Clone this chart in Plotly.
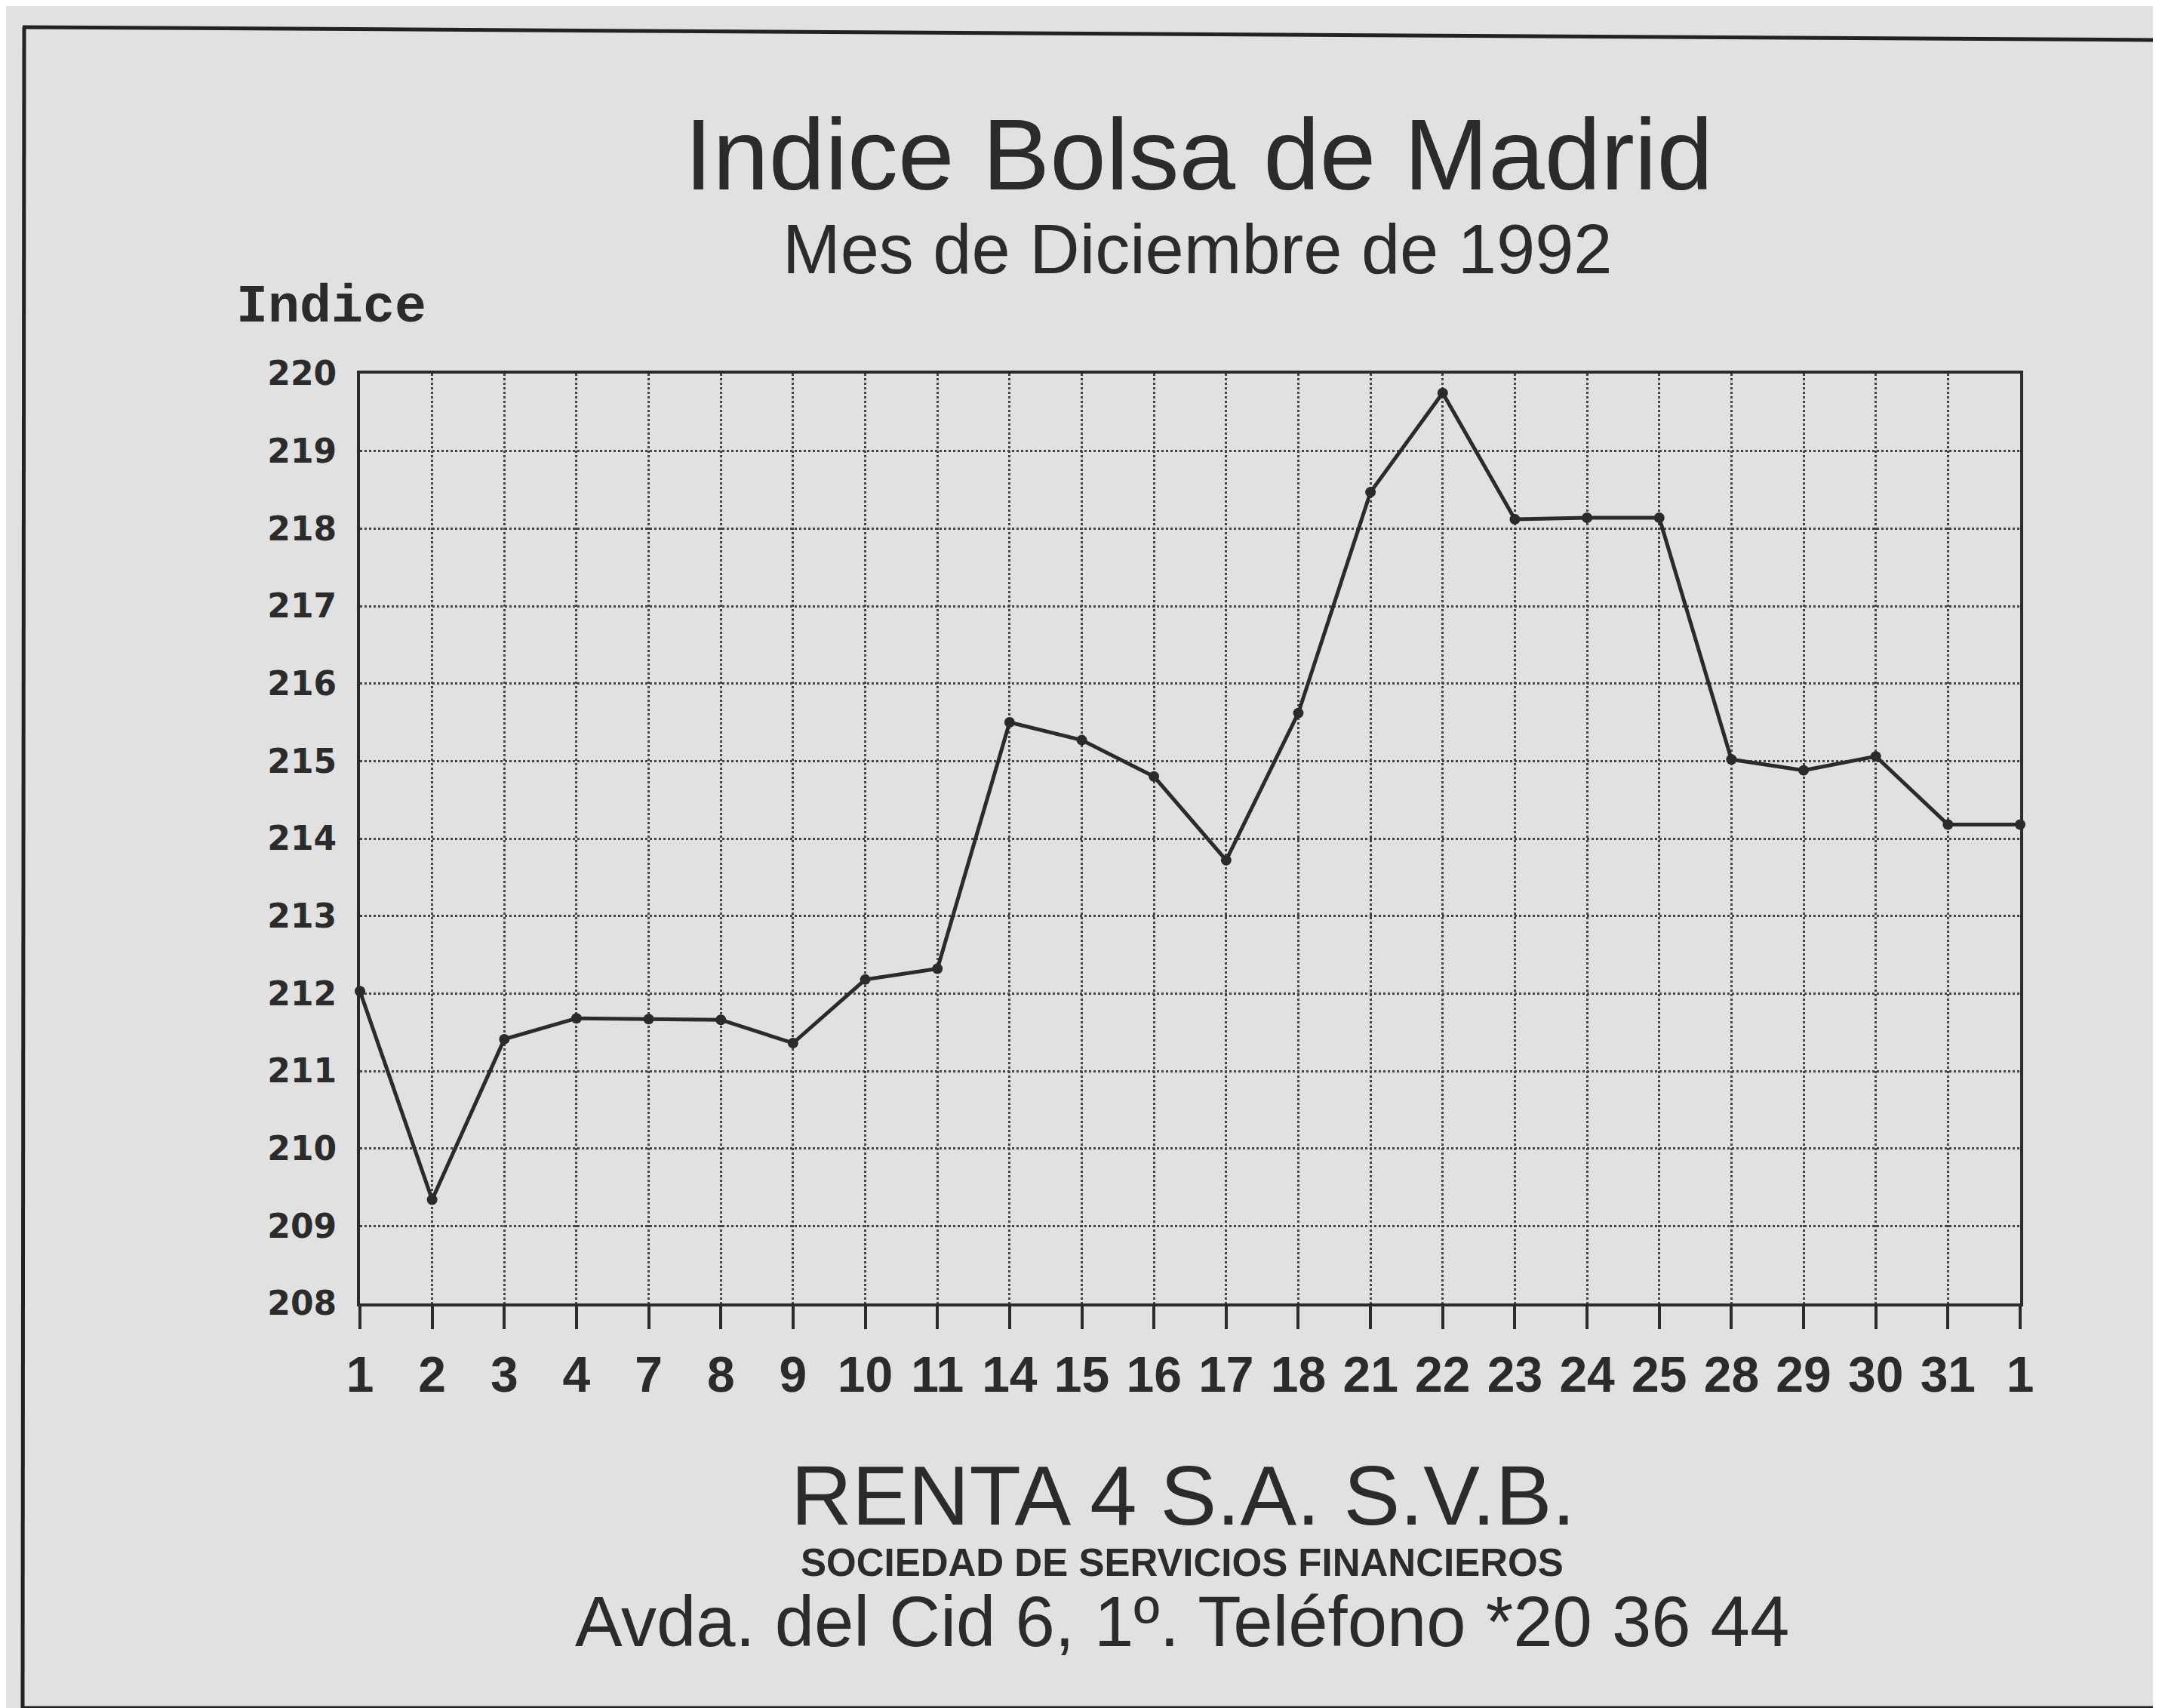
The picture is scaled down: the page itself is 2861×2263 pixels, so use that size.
import plotly.graph_objects as go

# ---- data ----
days = ["1", "2", "3", "4", "7", "8", "9", "10", "11", "14", "15", "16", "17", "18",
        "21", "22", "23", "24", "25", "28", "29", "30", "31", "1"]
indice = [212.03, 209.34, 211.41, 211.68, 211.67, 211.66, 211.36, 212.18, 212.32,
          215.50, 215.27, 214.80, 213.72, 215.62, 218.47, 219.75, 218.12, 218.14,
          218.14, 215.02, 214.88, 215.06, 214.18, 214.18]
y_ticks = list(range(208, 221))

title = "Indice Bolsa de Madrid"
subtitle = "Mes de Diciembre de 1992"
y_title = "Indice"
footer1 = "RENTA 4 S.A. S.V.B."
footer2 = "SOCIEDAD DE SERVICIOS FINANCIEROS"
footer3 = "Avda. del Cid 6, 1º. Teléfono *20 36 44"

# ---- layout geometry (pixels) ----
W, H = 2861, 2263
L, R, T, B = 469, 2669, 487, 1719
PW, PH = R - L, B - T
BG = "#e1e1e1"
INK = "#2b2b2b"


def px(x):
    return (x - L) / PW


def py(y):
    return (B - y) / PH


xs = list(range(len(days)))

fig = go.Figure()
fig.add_trace(go.Scatter(
    x=xs, y=indice, mode="lines+markers",
    line=dict(color=INK, width=5),
    marker=dict(color=INK, size=14, symbol="circle"),
    cliponaxis=False, showlegend=False, hoverinfo="x+y",
))

fig.update_layout(
    width=W, height=H,
    margin=dict(l=L, r=W - R, t=T, b=H - B, pad=0),
    paper_bgcolor=BG, plot_bgcolor=BG,
    xaxis=dict(
        range=[0, len(days) - 1], tickmode="array", tickvals=xs, ticktext=days,
        showgrid=True, gridcolor="#444444", gridwidth=3, griddash="dot",
        ticks="outside", ticklen=30, tickwidth=4, tickcolor=INK,
        showline=True, linecolor=INK, linewidth=4, mirror=True,
        tickfont=dict(family="Liberation Sans", size=66, color=INK, weight="bold"),
        ticklabelstandoff=4, zeroline=False,
    ),
    yaxis=dict(
        range=[208, 220], tickmode="array", tickvals=y_ticks,
        showgrid=True, gridcolor="#444444", gridwidth=3, griddash="dot",
        ticks="", showline=True, linecolor=INK, linewidth=4, mirror=True,
        tickfont=dict(family="DejaVu Sans", size=44, color=INK, weight="bold"),
        ticklabelstandoff=18, zeroline=False,
    ),
)

ann = []


def text(s, x, y, size, family="Liberation Sans", weight="normal"):
    ann.append(dict(text=s, x=px(x), y=py(y), xref="paper", yref="paper",
                    xanchor="center", yanchor="middle", showarrow=False,
                    font=dict(family=family, size=size, color=INK, weight=weight)))


text(title, 1580, 196, 134)
text(subtitle, 1578, 322, 92)
text(y_title, 431, 400, 70, family="Liberation Mono", weight="bold")
text(footer1, 1560, 1973, 112)
text(footer2, 1558, 2062, 51, weight="bold")
text(footer3, 1558, 2140, 94)
fig.update_layout(annotations=ann)

# frame of the newspaper box
frame = dict(color="#222222", width=5)
shapes = [
    dict(type="line", xref="paper", yref="paper", x0=px(22), y0=py(28), x1=px(W), y1=py(45), line=frame),
    dict(type="line", xref="paper", yref="paper", x0=px(24), y0=py(28), x1=px(22), y1=py(2255), line=frame),
    dict(type="line", xref="paper", yref="paper", x0=px(22), y0=py(2255), x1=px(W), y1=py(2255), line=frame),
]
fig.update_layout(shapes=shapes)

fig.write_html("out.html")
